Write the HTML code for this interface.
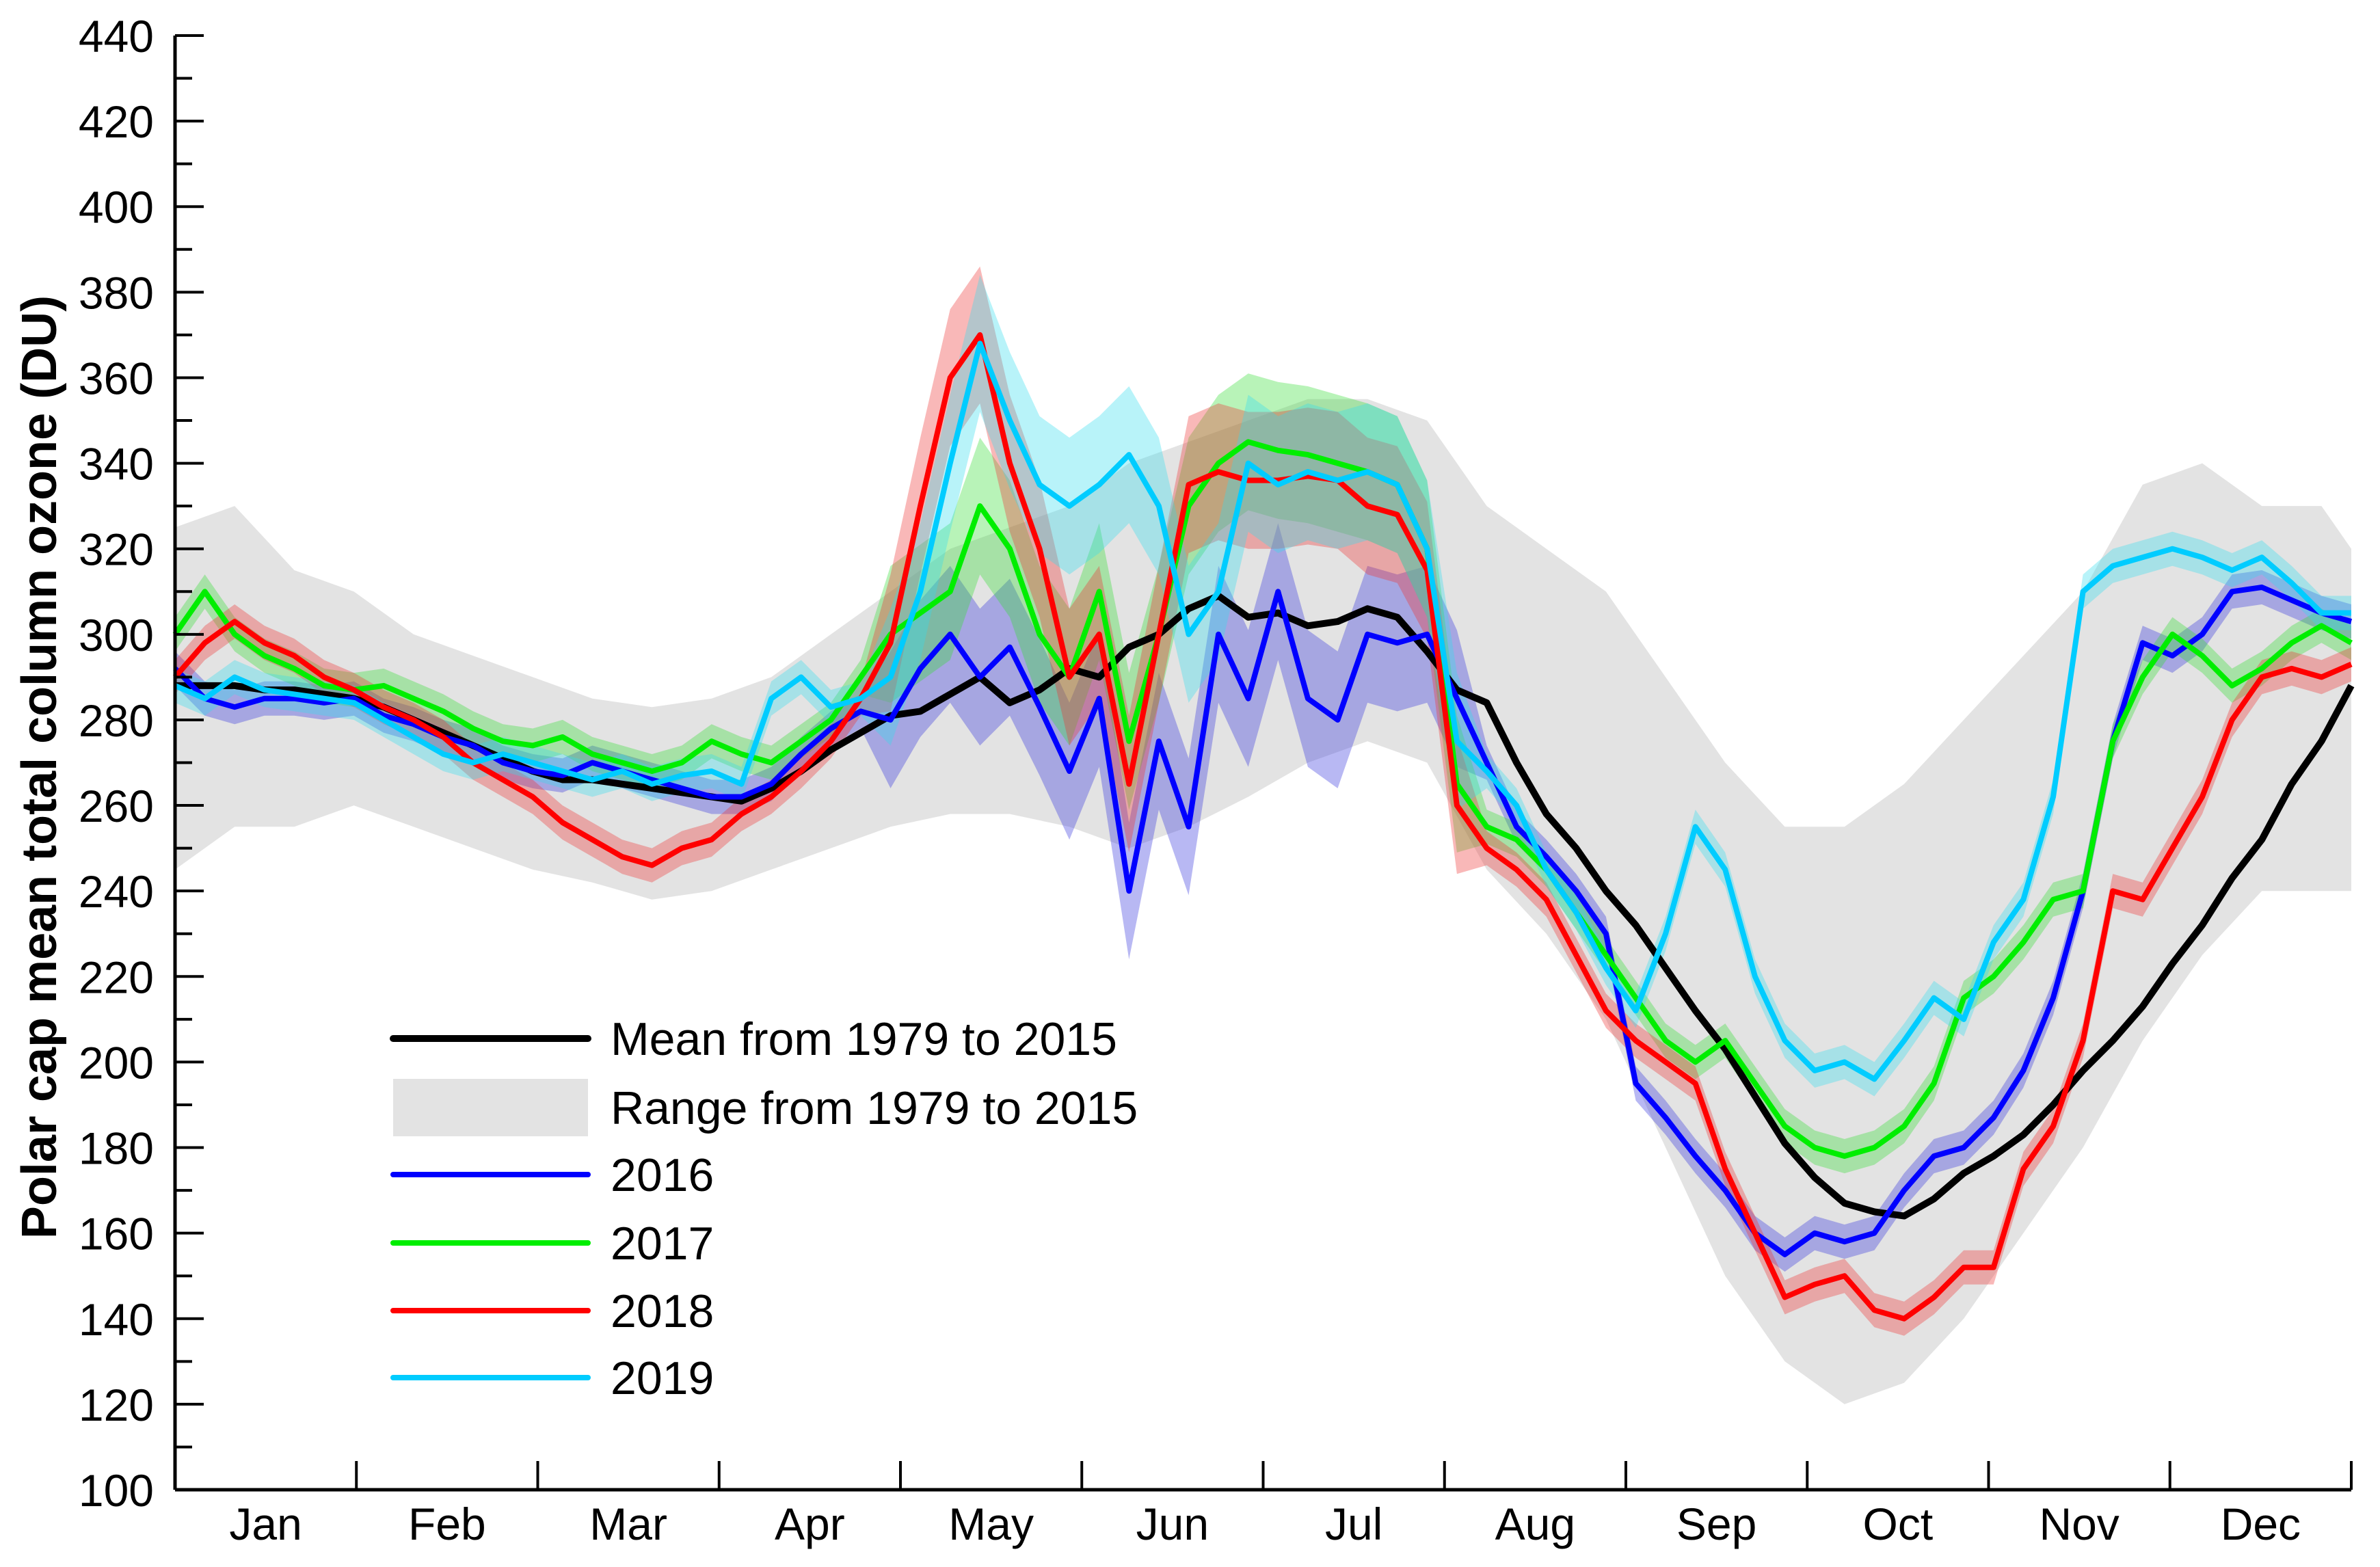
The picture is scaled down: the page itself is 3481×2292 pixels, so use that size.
<!DOCTYPE html>
<html><head><meta charset="utf-8"><style>
html,body{margin:0;padding:0;background:#fff;}
svg{display:block;font-family:"Liberation Sans",Arial,sans-serif;}
</style></head><body>
<svg id="chart" width="3481" height="2292" viewBox="0 0 3481 2292" xmlns="http://www.w3.org/2000/svg">
<g id="range-layer"></g>
<g id="bands"></g>
<g id="lines"></g>
<g id="axes"></g>
<g id="legend"></g>
<text transform="translate(82,1122) rotate(-90)" text-anchor="middle" font-size="72" font-weight="bold">Polar cap mean total column ozone (DU)</text>
</svg>
<script>
const days5 = [];for(let d=0; d<=365; d+=5) days5.push(d);
const days10 = [0,10,20,30,40,50,60,70,80,90,100,110,120,130,140,150,160,170,180,190,200,210,220,230,240,250,260,270,280,290,300,310,320,330,340,350,360,365];
const rangeMax = [325,330,315,310,300,295,290,285,283,285,290,300,310,320,325,330,340,345,350,355,355,350,330,320,310,290,270,255,255,265,280,295,310,335,340,330,330,320];
const rangeMin = [245,255,255,260,255,250,245,242,238,240,245,250,255,258,258,255,250,255,262,270,275,270,245,230,210,180,150,130,120,125,140,160,180,205,225,240,240,240];
const meanVals = [288,288,288,287,287,286,285,283,280,277,274,271,268,266,266,265,264,263,262,261,264,268,273,277,281,282,286,290,284,287,292,290,297,300,306,309,304,305,302,303,306,304,296,287,284,270,258,250,240,232,222,212,203,192,181,173,167,165,164,168,174,178,183,190,198,205,213,223,232,243,252,265,275,288];
const y2016 = [292,285,283,285,285,284,285,281,279,276,274,270,268,267,270,268,266,264,262,262,265,272,278,282,280,292,300,290,297,283,268,285,240,275,255,300,285,310,285,280,300,298,300,285,270,255,248,240,230,195,187,178,170,160,155,160,158,160,170,178,180,187,198,215,240,275,298,295,300,310,311,308,305,303];
const y2017 = [300,310,300,295,292,288,287,288,285,282,278,275,274,276,272,270,268,270,275,272,270,275,280,290,300,305,310,330,320,300,290,310,275,300,330,340,345,343,342,340,338,335,320,265,255,252,245,235,225,215,205,200,205,195,185,180,178,180,185,195,215,220,228,238,240,275,290,300,295,288,292,298,302,298];
const y2018 = [290,298,303,298,295,290,287,283,280,276,270,266,262,256,252,248,246,250,252,258,262,268,275,285,298,330,360,370,340,320,290,300,265,300,335,338,336,336,337,336,330,328,315,260,250,245,238,225,212,205,200,195,175,160,145,148,150,142,140,145,152,152,175,185,205,240,238,250,262,280,290,292,290,293];
const y2019 = [288,285,290,287,286,285,284,280,276,272,270,272,270,268,266,268,265,267,268,265,285,290,283,285,290,310,340,368,350,335,330,335,342,330,300,310,340,335,338,336,338,335,320,275,268,260,245,235,222,212,230,255,245,220,205,198,200,196,205,215,210,228,238,262,310,316,318,320,318,315,318,312,305,305];
const yearLabels = ["2016","2017","2018","2019"];
const yearColors = ["#0000ff","#00ee00","#ff0000","#00ccff"];
const bandColors = ["#3333dd","#33dd33","#ee3333","#33ddee"];
const monthLabels = ["Jan","Feb","Mar","Apr","May","Jun","Jul","Aug","Sep","Oct","Nov","Dec"];
const yTicks = [100,120,140,160,180,200,220,240,260,280,300,320,340,360,380,400,420,440];

const X0=256, X1=3439, Y0=2179, Y1=52;
const xs = d => X0 + d/365*(X1-X0);
const ys = v => Y0 - (v-100)/340*(Y0-Y1);
const NS="http://www.w3.org/2000/svg";
function mk(tag, parent, attrs){const e=document.createElementNS(NS,tag);for(const k in attrs)e.setAttribute(k,attrs[k]);parent.appendChild(e);return e;}
const pts=(ds,vs)=>ds.map((d,i)=>xs(d).toFixed(1)+","+ys(vs[i]).toFixed(1));

const rg=document.getElementById('range-layer');
const rp = mk('polygon', rg, {points: pts(days10,rangeMax).concat(pts(days10,rangeMin).reverse()).join(" "), fill:"#e3e3e3"});



const bg=document.getElementById('bands');
const hw = d => (d>=120 && d<=215) ? 16 : 4;
[y2016,y2017,y2018,y2019].forEach((s,k)=>{
  const up=days5.map((d,i)=>xs(d).toFixed(1)+","+ys(s[i]+hw(d)).toFixed(1));
  const lo=days5.map((d,i)=>xs(d).toFixed(1)+","+ys(s[i]-hw(d)).toFixed(1)).reverse();
  const p=mk('polygon',bg,{points:up.concat(lo).join(" "),fill:bandColors[k],opacity:0.35});
  
  
});

const lg=document.getElementById('lines');
const m=mk('polyline',lg,{points:pts(days5,meanVals).join(" "),fill:"none",stroke:"#000",'stroke-width':10,'stroke-linejoin':'round'});


[y2016,y2017,y2018,y2019].forEach((s,k)=>{
  const l=mk('polyline',lg,{points:pts(days5,s).join(" "),fill:"none",stroke:yearColors[k],'stroke-width':8,'stroke-linejoin':'round'});
  
  
});

const ax=document.getElementById('axes');
mk('line',ax,{x1:X0,y1:Y1,x2:X0,y2:Y0,stroke:"#000",'stroke-width':5});
mk('line',ax,{x1:X0,y1:Y0,x2:X1,y2:Y0,stroke:"#000",'stroke-width':5});
for(let v=100; v<=440; v+=10){
  const major = v%20===0;
  mk('line',ax,{x1:X0,y1:ys(v),x2:X0+(major?42:25),y2:ys(v),stroke:"#000",'stroke-width':4});
}
yTicks.forEach(v=>{
  const t=mk('text',ax,{x:225,y:ys(v)+24,'text-anchor':'end','font-size':66});
  t.textContent=v;
  
  
});
for(let i=0;i<=12;i++){
  const x=X0+i*(X1-X0)/12;
  mk('line',ax,{x1:x,y1:Y0,x2:x,y2:Y0-42,stroke:"#000",'stroke-width':4});
}
monthLabels.forEach((mn,i)=>{
  const t=mk('text',ax,{x:X0+(i+0.5)*(X1-X0)/12,y:2252,'text-anchor':'middle','font-size':66});
  t.textContent=mn;
  
  
});

const le=document.getElementById('legend');
const legY=[1519,1620,1718,1818,1917,2015];
const legTexts=["Mean from 1979 to 2015","Range from 1979 to 2015"].concat(yearLabels);
legTexts.forEach((txt,i)=>{
  const g=mk('g',le,{});
  
  
  if(i===1){ mk('rect',g,{x:575,y:legY[i]-42,width:285,height:84,fill:"#e3e3e3"}); }
  else { mk('line',g,{x1:575,y1:legY[i],x2:860,y2:legY[i],stroke:i===0?"#000":yearColors[i-2],'stroke-width':i===0?10:8,'stroke-linecap':'round'}); }
  const t=mk('text',g,{x:893,y:legY[i]+24,'font-size':68});
  t.textContent=txt;
});
</script>
</body></html>
